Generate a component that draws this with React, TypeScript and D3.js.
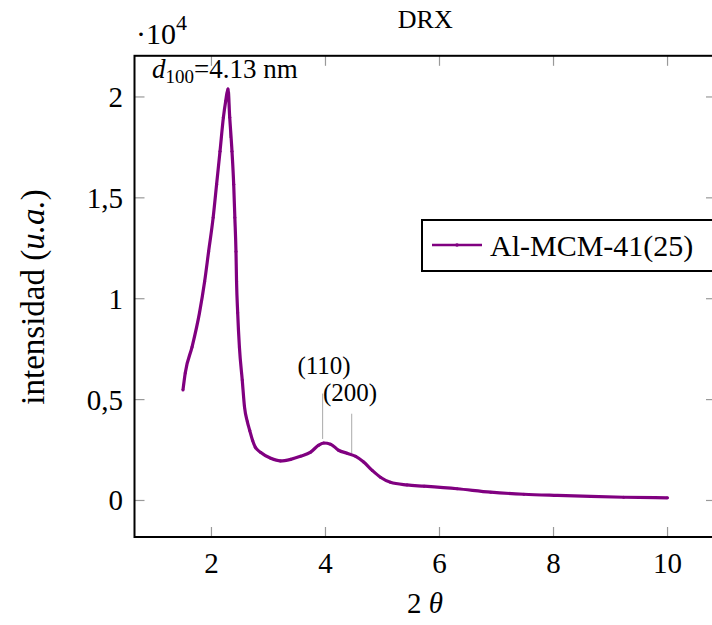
import React from 'react';
import * as d3 from 'd3';

// 2θ (deg) and raw intensity (counts)
const twoTheta = [1.5, 1.54, 1.66, 1.79, 1.88, 1.95, 2.03, 2.09, 2.15, 2.21, 2.25, 2.29, 2.32, 2.36, 2.39, 2.41, 2.43, 2.44, 2.46, 2.49, 2.54, 2.58, 2.63, 2.67, 2.72, 2.77, 2.86, 3.04, 3.21, 3.39, 3.56, 3.74, 3.88, 3.97, 4.09, 4.23, 4.38, 4.53, 4.67, 4.82, 4.97, 5.14, 5.43, 5.73, 6.31, 6.9, 7.48, 8.07, 8.65, 9.23, 10.0];
const intensity = [5470, 6320, 7610, 9300, 10850, 12340, 14030, 15670, 17310, 19000, 19800, 20400, 19000, 17310, 15670, 14030, 12340, 10850, 9300, 7610, 5970, 4630, 3900, 3480, 2990, 2640, 2390, 2090, 1960, 2040, 2190, 2400, 2740, 2850, 2790, 2490, 2340, 2190, 1910, 1490, 1140, 900, 770, 710, 580, 410, 310, 250, 200, 160, 130];

const xTicks = [2, 4, 6, 8, 10];
const yTicks = [0, 5000, 10000, 15000, 20000];
const yTickLabels = ['0', '0,5', '1', '1,5', '2'];

const seriesName = 'Al-MCM-41(25)';

// pins: [2θ, from intensity, to intensity, label]
const pins: [number, number, number, string][] = [
  [3.95, 5300, 3050, '(110)'],
  [4.46, 4300, 2350, '(200)'],
];

const W = 712;
const H = 625;
const left = 134.5, right = 716, top = 55.8, bottom = 537;
const font = '"Liberation Serif", "Times New Roman", serif';
const purple = '#800080';

export default function App() {
  const x = d3.scaleLinear().domain([0.65, 10.85]).range([left, right]);
  const y = d3.scaleLinear().domain([-1810, 22040]).range([bottom, top]);

  const pts = twoTheta.map((t, i) => [t, intensity[i]] as [number, number]);
  const line = d3.line<[number, number]>()
    .x(d => x(d[0]))
    .y(d => y(d[1]))
    .curve(d3.curveMonotoneX);

  const tickLen = 10;

  return (
    <svg width={W} height={H} style={{ position: 'absolute', left: 0, top: 0 }} fontFamily={font}>
      <rect x={0} y={0} width={W} height={H} fill="#fff" />

      {/* title */}
      <text x={(left + right) / 2} y={28} textAnchor="middle" fontSize={26}>DRX</text>

      {/* scale factor */}
      <text x={136} y={44} fontSize={30}>
        ·10<tspan dy={-14} fontSize={22}>4</tspan>
      </text>

      {/* ticks */}
      {xTicks.map(t => (
        <g key={'x' + t}>
          <line x1={x(t)} x2={x(t)} y1={bottom} y2={bottom - tickLen} stroke="#999" strokeWidth={1.2} />
          <line x1={x(t)} x2={x(t)} y1={top} y2={top + tickLen} stroke="#999" strokeWidth={1.2} />
          <text x={x(t)} y={573} textAnchor="middle" fontSize={29}>{t}</text>
        </g>
      ))}
      {yTicks.map((t, i) => (
        <g key={'y' + t}>
          <line x1={left} x2={left + tickLen} y1={y(t)} y2={y(t)} stroke="#999" strokeWidth={1.2} />
          <line x1={right} x2={right - tickLen} y1={y(t)} y2={y(t)} stroke="#999" strokeWidth={1.2} />
          <text x={123} y={y(t) + 10} textAnchor="end" fontSize={29}>{yTickLabels[i]}</text>
        </g>
      ))}

      {/* pins */}
      <line x1={x(2.32)} x2={x(2.32)} y1={92} y2={138} stroke="#aaa" strokeWidth={1} />
      {pins.map(p => (
        <line key={p[3]} x1={x(p[0])} x2={x(p[0])} y1={y(p[1])} y2={y(p[2])} stroke="#aaa" strokeWidth={1} />
      ))}

      {/* data */}
      <path d={line(pts) ?? ''} fill="none" stroke={purple} strokeWidth={3.2} strokeLinejoin="round" />
      {pts.map((d, i) => (
        <circle key={i} cx={x(d[0])} cy={y(d[1])} r={1.5} fill={purple} />
      ))}

      {/* pin labels */}
      <text x={324} y={374} textAnchor="middle" fontSize={25}>(110)</text>
      <text x={350} y={401} textAnchor="middle" fontSize={25}>(200)</text>
      <text x={152} y={78} fontSize={27}>
        <tspan fontStyle="italic">d</tspan><tspan dy={5} fontSize={19}>100</tspan><tspan dy={-5}>=4.13 nm</tspan>
      </text>

      {/* frame */}
      <rect x={left} y={top} width={right - left} height={bottom - top} fill="none" stroke="#000" strokeWidth={2} />

      {/* legend */}
      <rect x={422} y={220} width={320} height={51} fill="#fff" stroke="#000" strokeWidth={2} />
      <line x1={432} x2={482} y1={245} y2={245} stroke={purple} strokeWidth={2.5} />
      <circle cx={457} cy={245} r={1.8} fill={purple} />
      <text x={490} y={256} fontSize={30}>{seriesName}</text>

      {/* axis labels */}
      <text x={425} y={613} textAnchor="middle" fontSize={29}>
        2 <tspan fontStyle="italic">θ</tspan>
      </text>
      <text transform="translate(44,297) rotate(-90)" textAnchor="middle" fontSize={33}>
        intensidad (<tspan fontStyle="italic">u.a.</tspan>)
      </text>
    </svg>
  );
}
